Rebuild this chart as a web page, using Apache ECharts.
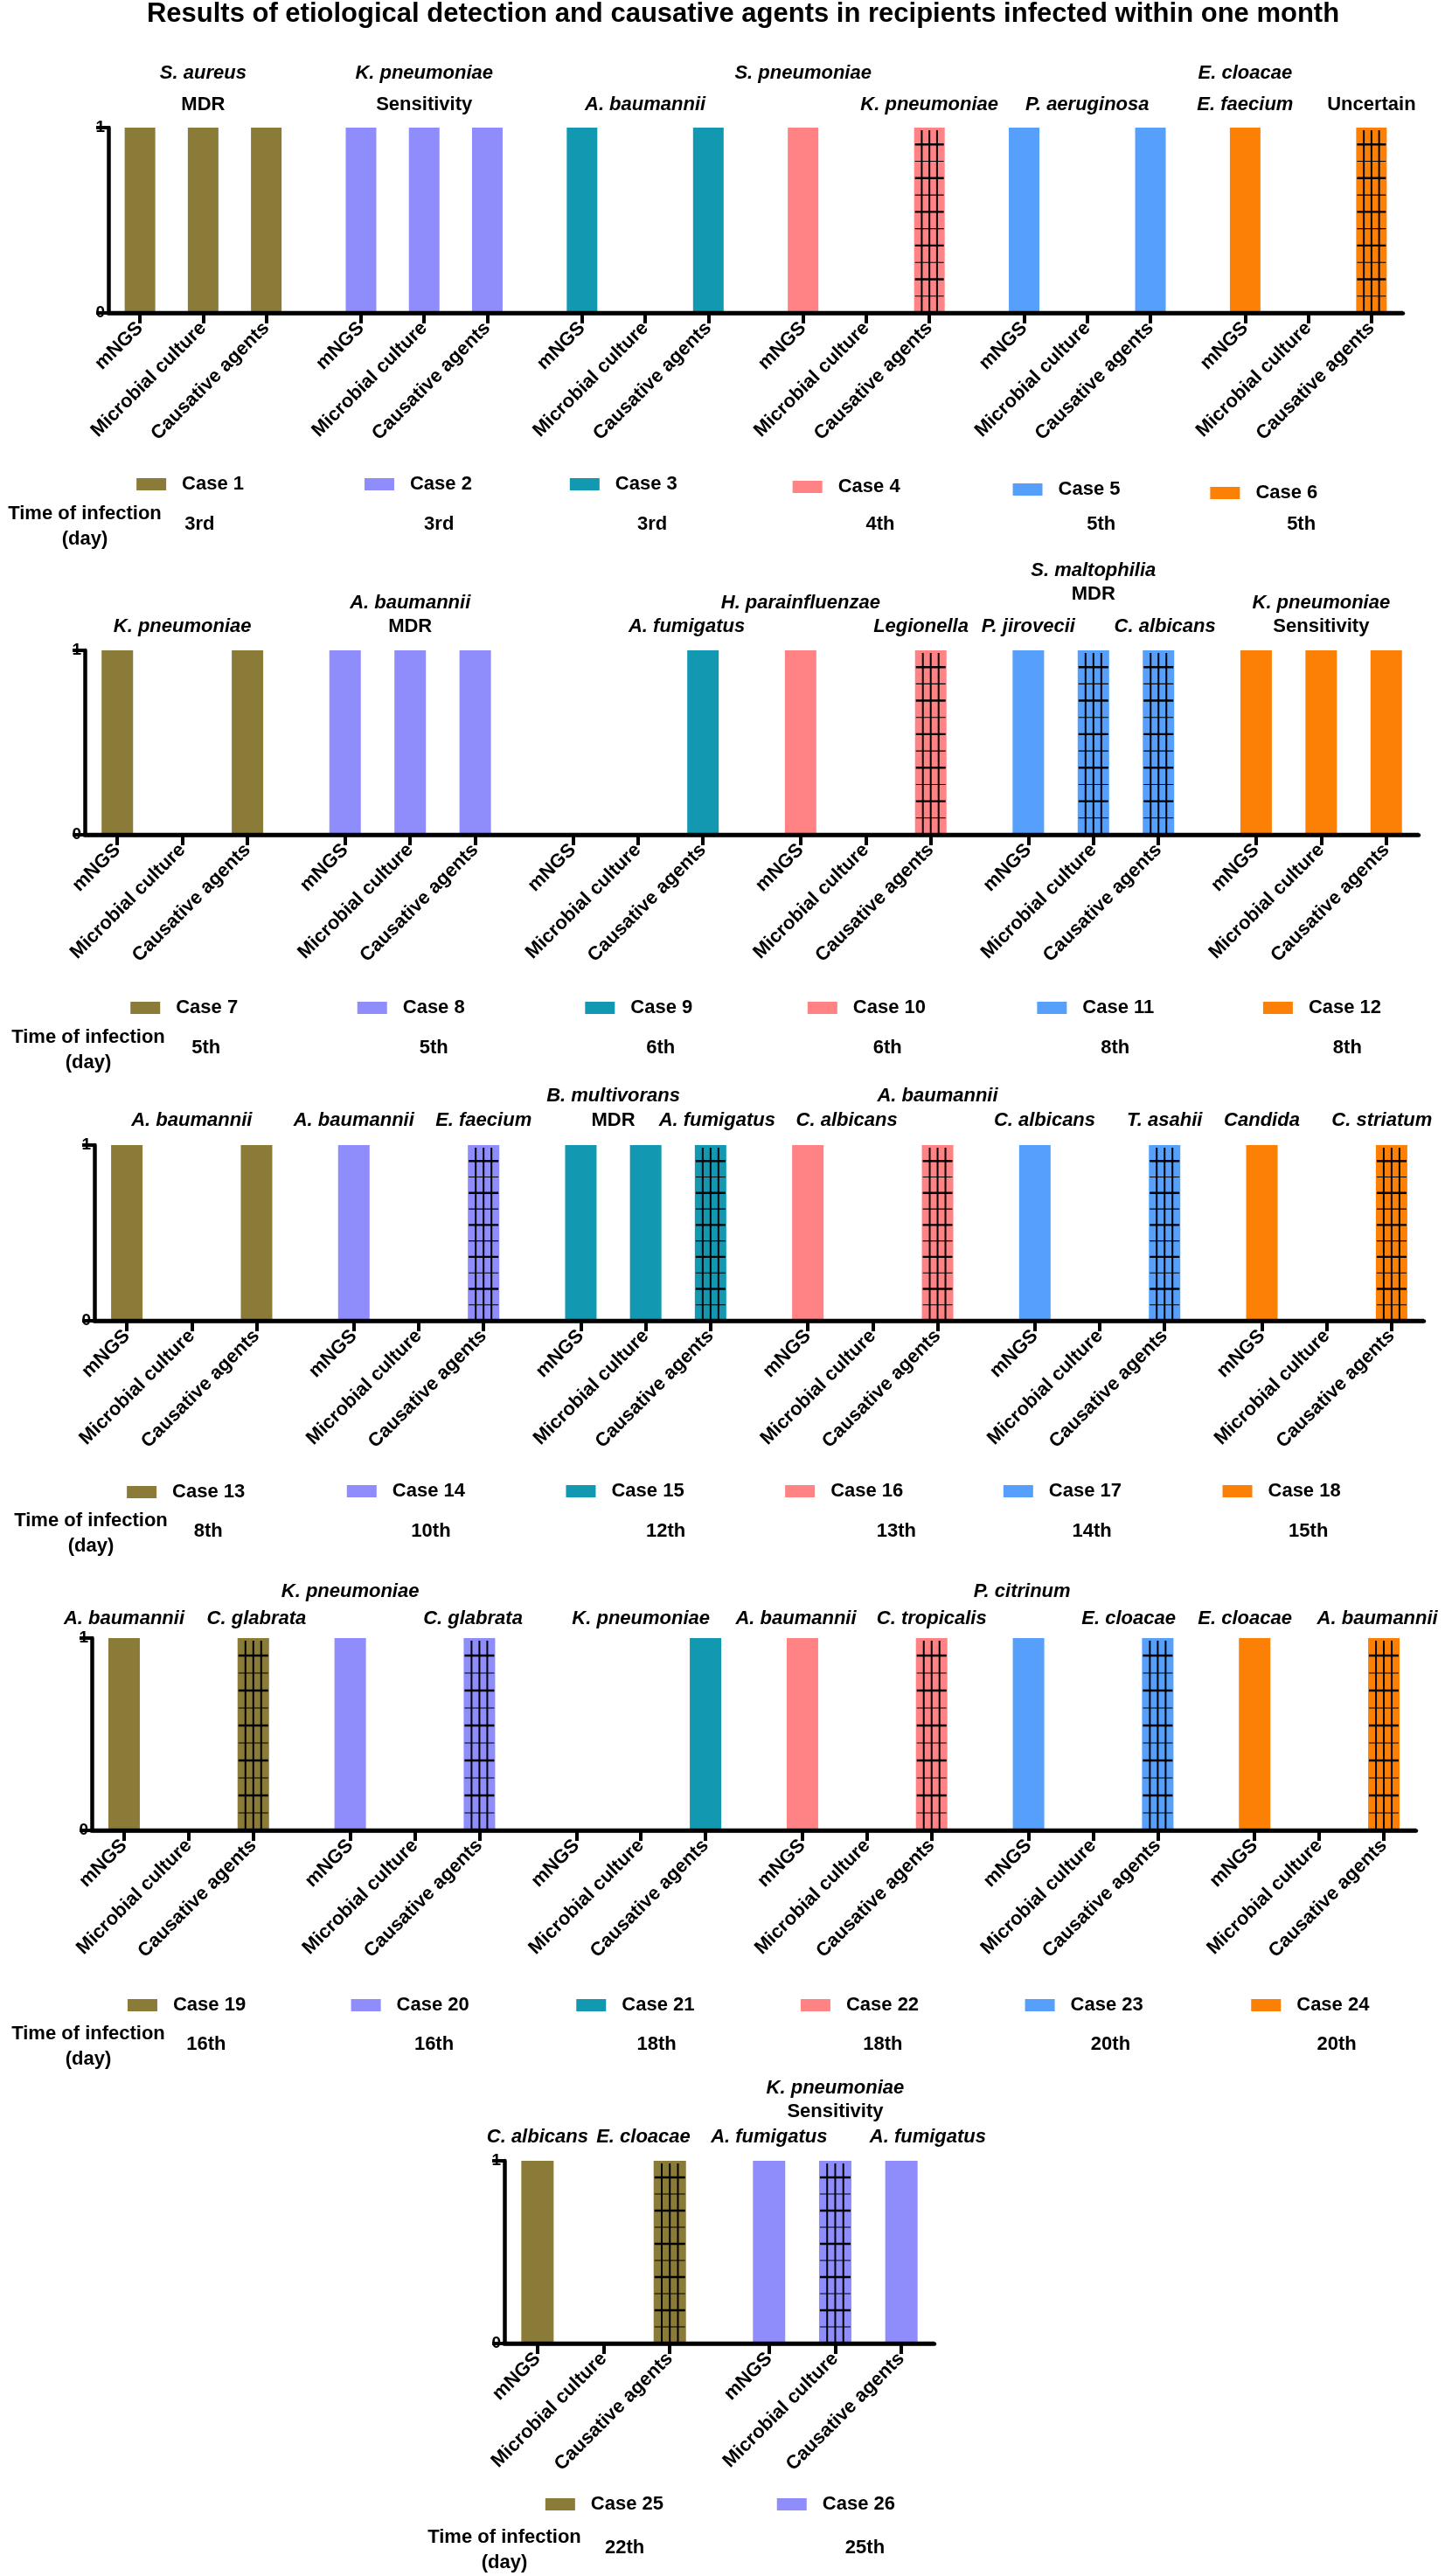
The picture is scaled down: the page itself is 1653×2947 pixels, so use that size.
<!DOCTYPE html>
<html>
<head>
<meta charset="utf-8">
<script src="https://cdn.jsdelivr.net/npm/echarts@6.0.0/dist/echarts.min.js"></script>
<style>
html, body { margin: 0; padding: 0; background: #fff; }
#chart { width: 1653px; height: 2947px; }
</style>
</head>
<body>
<div id="chart"></div>
<script>
// what was checked for every case
const stepNames = ['mNGS', 'Microbial culture', 'Causative agents'];

// 1 = positive, 0 = nothing found (order of stepNames)
const detected = [
  [1, 1, 1], [1, 1, 1], [1, 0, 1], [1, 0, 1], [1, 0, 1], [1, 0, 1],
  [1, 0, 1], [1, 1, 1], [0, 0, 1], [1, 0, 1], [1, 1, 1], [1, 1, 1],
  [1, 0, 1], [1, 0, 1], [1, 1, 1], [1, 0, 1], [1, 0, 1], [1, 0, 1],
  [1, 0, 1], [1, 0, 1], [0, 0, 1], [1, 0, 1], [1, 0, 1], [1, 0, 1],
  [1, 0, 1], [1, 1, 1]
];
// bars drawn with the grid hatch (more than one agent)
const hatched = [
  [0, 0, 0], [0, 0, 0], [0, 0, 0], [0, 0, 1], [0, 0, 0], [0, 0, 1],
  [0, 0, 0], [0, 0, 0], [0, 0, 0], [0, 0, 1], [0, 1, 1], [0, 0, 0],
  [0, 0, 0], [0, 0, 1], [0, 0, 1], [0, 0, 1], [0, 0, 1], [0, 0, 1],
  [0, 0, 1], [0, 0, 1], [0, 0, 0], [0, 0, 1], [0, 0, 1], [0, 0, 1],
  [0, 0, 1], [0, 1, 0]
];
const infectionDay = [
  '3rd', '3rd', '3rd', '4th', '5th', '5th',
  '5th', '5th', '6th', '6th', '8th', '8th',
  '8th', '10th', '12th', '13th', '14th', '15th',
  '16th', '16th', '18th', '18th', '20th', '20th',
  '22th', '25th'
];
const casesPerRow = [6, 6, 6, 6, 2];
const caseColors = ['#8b7b39', '#8f8dfc', '#1398b2', '#ff8284', '#56a0fb', '#fd8006'];

// [case, step position, stack level, text, italic]
const notes = [
  [1, 1, 1, 'S. aureus', 1], [1, 1, 0, 'MDR', 0],
  [2, 1, 1, 'K. pneumoniae', 1], [2, 1, 0, 'Sensitivity', 0],
  [3, 1, 0, 'A. baumannii', 1],
  [4, 0, 1, 'S. pneumoniae', 1], [4, 2, 0, 'K. pneumoniae', 1],
  [5, 1, 0, 'P. aeruginosa', 1],
  [6, 0, 1, 'E. cloacae', 1], [6, 0, 0, 'E. faecium', 1], [6, 2, 0, 'Uncertain', 0],
  [7, 1, 0, 'K. pneumoniae', 1],
  [8, 1, 1, 'A. baumannii', 1], [8, 1, 0, 'MDR', 0],
  [9, 1.75, 0, 'A. fumigatus', 1],
  [10, 0, 1, 'H. parainfluenzae', 1], [10, 1.85, 0, 'Legionella', 1],
  [11, 0, 0, 'P. jirovecii', 1], [11, 1, 3, 'S. maltophilia', 1], [11, 1, 2, 'MDR', 0], [11, 2.1, 0, 'C. albicans', 1],
  [12, 1, 1, 'K. pneumoniae', 1], [12, 1, 0, 'Sensitivity', 0],
  [13, 1, 0, 'A. baumannii', 1],
  [14, 0, 0, 'A. baumannii', 1], [14, 2, 0, 'E. faecium', 1],
  [15, 0.5, 1, 'B. multivorans', 1], [15, 0.5, 0, 'MDR', 0], [15, 2.1, 0, 'A. fumigatus', 1],
  [16, 0.6, 0, 'C. albicans', 1], [16, 2, 1, 'A. baumannii', 1],
  [17, 0.15, 0, 'C. albicans', 1], [17, 2, 0, 'T. asahii', 1],
  [18, 0, 0, 'Candida', 1], [18, 1.85, 0, 'C. striatum', 1],
  [19, 0, 0, 'A. baumannii', 1], [19, 2.05, 0, 'C. glabrata', 1],
  [20, 0, 1, 'K. pneumoniae', 1], [20, 1.9, 0, 'C. glabrata', 1],
  [21, 1, 0, 'K. pneumoniae', 1],
  [22, -0.1, 0, 'A. baumannii', 1], [22, 2, 0, 'C. tropicalis', 1],
  [23, -0.1, 1, 'P. citrinum', 1], [23, 1.55, 0, 'E. cloacae', 1],
  [24, -0.15, 0, 'E. cloacae', 1], [24, 1.9, 0, 'A. baumannii', 1],
  [25, 0, 0, 'C. albicans', 1], [25, 1.6, 0, 'E. cloacae', 1],
  [26, 0, 0, 'A. fumigatus', 1], [26, 1, 2, 'K. pneumoniae', 1], [26, 1, 1, 'Sensitivity', 0], [26, 2.4, 0, 'A. fumigatus', 1]
];

// ---- layout (pixels) ----
const FONT = '"Liberation Sans", Arial, Helvetica, sans-serif';
const rowBoxes = [
  { left: 124, top: 146, width: 1481, height: 212 },
  { left: 97, top: 744, width: 1526, height: 211 },
  { left: 108, top: 1310, width: 1521, height: 201 },
  { left: 105, top: 1874, width: 1515, height: 220 },
  { left: 577, top: 2472, width: 492, height: 209 }
];
const noteLift = [[26, 62], [27, 54, 64, 91], [28, 56], [22, 53], [27, 56, 83]];
const legendGap = [196, 198, 195, 200, 184];
const legendShift = [[-4, 4, -14, -12, -13, -40], [15, 14, 14, 8, 10, 8], [0, -8, -17, -26, -36, -45], [4, 1, 0, -2, -4, -4], [9, 9]];
const legendDrop = [[0, 0, 0, 3, 6, 10], [0, 0, 0, 0, 0, 0], [1, 0, 0, 0, 0, 0], [0, 0, 0, 0, 0, 0], [0, 0]];
const dayGap = [242, 244, 241, 245, 234];
const dayShift = [[-4, 17, 8, 16, 16, -8], [27, 27, 26, 25, 25, 30], [19, 14, 23, 27, -9, -21], [20, 22, 18, 18, 20, 20], [24, 34]];
const timeTitleX = [97, 101, 104, 101, 577];

const slotOf = (g, c) => 1 + 7 * g + 2 * c;
const rowStart = casesPerRow.map((n, r) => casesPerRow.slice(0, r).reduce((a, b) => a + b, 0));

const chart = echarts.init(document.getElementById('chart'));

const grids = [], xAxes = [], yAxes = [], series = [];
const barW = rowBoxes.map((b, r) => Math.round(b.width / (7 * casesPerRow[r] - 1) * 0.97));

casesPerRow.forEach((n, r) => {
  const cats = [];
  for (let s = 0; s < 7 * n; s++) {
    const k = s % 7;
    cats.push(k === 1 || k === 3 || k === 5 ? stepNames[(k - 1) / 2] : '');
  }
  grids.push(rowBoxes[r]);
  xAxes.push({
    type: 'category', gridIndex: r, data: cats, boundaryGap: false,
    axisLine: { show: true, lineStyle: { color: '#000', width: 4.5 } },
    axisTick: { show: true, interval: i => cats[i] !== '', length: 12, lineStyle: { color: '#000', width: 4 } },
    axisLabel: {
      interval: i => cats[i] !== '', rotate: 45, margin: 14,
      fontSize: 22, fontWeight: 'bold', fontFamily: FONT, color: '#000'
    }
  });
  yAxes.push({
    type: 'value', gridIndex: r, min: 0, max: 1, interval: 1,
    axisLine: { show: true, lineStyle: { color: '#000', width: 4.5 } },
    axisTick: { show: true, length: 14, lineStyle: { color: '#000', width: 4 } },
    axisLabel: { fontSize: 19, fontWeight: 'bold', fontFamily: FONT, color: '#000', margin: 4 },
    splitLine: { show: false }
  });

  const hatchData = [];
  for (let g = 0; g < n; g++) {
    const k = rowStart[r] + g;
    series.push({
      name: 'Case ' + (k + 1), type: 'bar', xAxisIndex: r, yAxisIndex: r,
      barWidth: barW[r], barGap: '-100%',
      itemStyle: { color: caseColors[g] },
      data: stepNames.map((_, c) => [slotOf(g, c), detected[k][c]])
    });
    hatched[k].forEach((h, c) => { if (h) hatchData.push([slotOf(g, c), detected[k][c]]); });
  }
  // grid hatch drawn over the bars that hold several agents
  series.push({
    type: 'custom', xAxisIndex: r, yAxisIndex: r, z: 3, silent: true,
    data: hatchData,
    renderItem(params, api) {
      const base = api.coord([api.value(0), 0]);
      const top = api.coord([api.value(0), api.value(1)]);
      const w = barW[r], h = base[1] - top[1];
      const kids = [];
      [-0.25, 0, 0.25].forEach(f => kids.push({
        type: 'line', shape: { x1: base[0] + f * w, y1: top[1] + 3, x2: base[0] + f * w, y2: base[1] },
        style: { stroke: '#000', lineWidth: 2 }
      }));
      for (let j = 1; j <= 10; j++) {
        const y = top[1] + j * h / 11;
        kids.push({
          type: 'line', shape: { x1: base[0] - w / 2 + 1, y1: y, x2: base[0] + w / 2 - 1, y2: y },
          style: { stroke: '#000', lineWidth: j % 2 ? 2.4 : 1.1 }
        });
      }
      return { type: 'group', children: kids };
    }
  });
  // heavy base line at value 0, laid over the bar feet
  series.push({
    type: 'custom', xAxisIndex: r, yAxisIndex: r, z: 4, silent: true, clip: false,
    data: [[0, 0]],
    renderItem(params, api) {
      const cs = params.coordSys;
      const y = api.coord([api.value(0), api.value(1)])[1];
      return {
        type: 'rect', shape: { x: cs.x - 2, y: y - 2.25, width: cs.width + 2, height: 4.5 },
        style: { fill: '#000' }
      };
    }
  });
});

chart.setOption({
  animation: false,
  title: {
    text: 'Results of etiological detection and causative agents in recipients infected within one month',
    left: 850, top: 1, textAlign: 'center', padding: 0,
    textStyle: { fontSize: 31, fontWeight: 'bold', fontFamily: FONT, color: '#000' }
  },
  grid: grids, xAxis: xAxes, yAxis: yAxes, series: series
});

// second pass: texts and legends placed from the axes
const graphics = [], legends = [];
const txt = (x, y, text, font) => graphics.push({
  type: 'text', x: x, y: y,
  style: { text: text, font: font, fill: '#000', textAlign: 'center', textVerticalAlign: 'middle' }
});
casesPerRow.forEach((n, r) => {
  const yTop = chart.convertToPixel({ yAxisIndex: r }, 1);
  const yZero = chart.convertToPixel({ yAxisIndex: r }, 0);
  const dayY = yZero + dayGap[r];
  txt(timeTitleX[r], dayY - 12, 'Time of infection', 'bold 22px ' + FONT);
  txt(timeTitleX[r], dayY + 17, '(day)', 'bold 22px ' + FONT);
  for (let g = 0; g < n; g++) {
    const k = rowStart[r] + g;
    const x0 = chart.convertToPixel({ xAxisIndex: r }, slotOf(g, 0));
    const x1 = chart.convertToPixel({ xAxisIndex: r }, slotOf(g, 1));
    const step = x1 - x0;
    notes.filter(a => a[0] === k + 1).forEach(a => {
      txt(x0 + a[1] * step, yTop - noteLift[r][a[2]], a[3], (a[4] ? 'italic ' : '') + 'bold 22px ' + FONT);
    });
    txt(x1 + dayShift[r][g], dayY, infectionDay[k], 'bold 22px ' + FONT);
    legends.push({
      data: ['Case ' + (k + 1)], icon: 'rect', itemWidth: 34, itemHeight: 14,
      left: x0 + legendShift[r][g], top: yZero + legendGap[r] + legendDrop[r][g] - 11,
      padding: 0, selectedMode: false,
      textStyle: { fontSize: 22, fontWeight: 'bold', fontFamily: FONT, color: '#000', lineHeight: 22, padding: [0, 0, 0, 13] }
    });
  }
});
chart.setOption({ legend: legends, graphic: graphics });
</script>
</body>
</html>
